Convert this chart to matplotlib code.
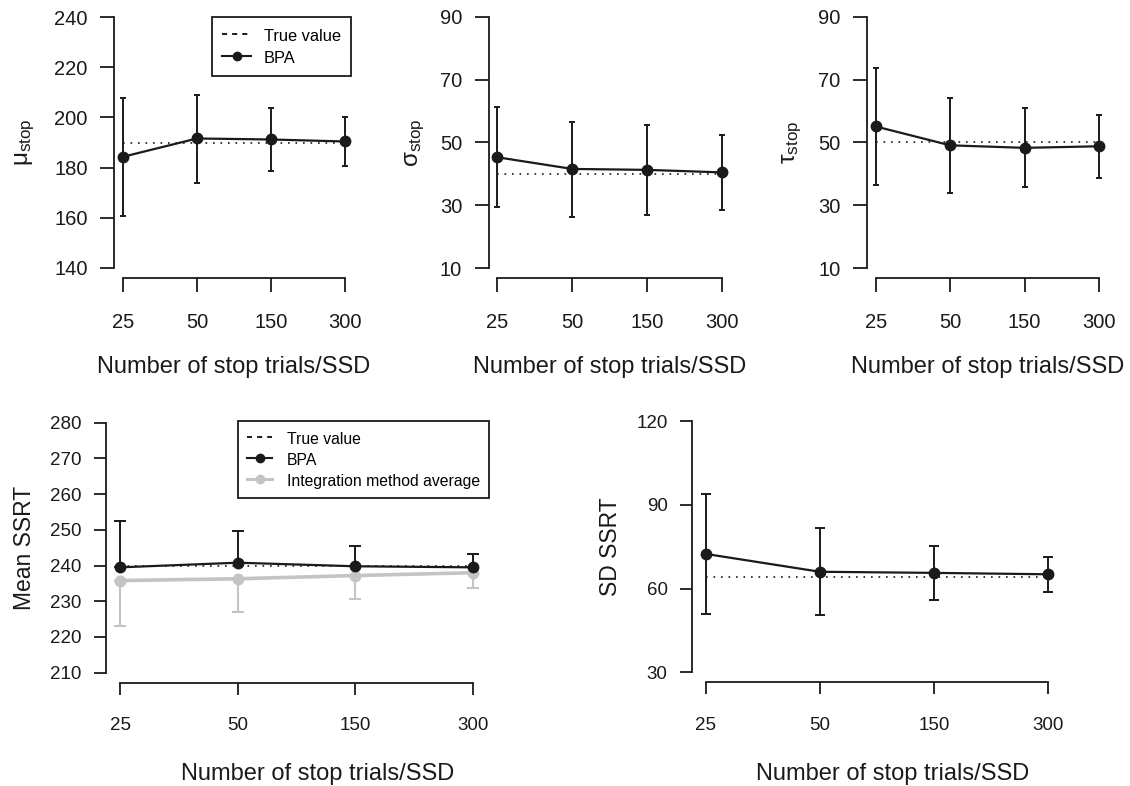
import matplotlib
matplotlib.use("Agg")
import matplotlib.pyplot as plt
from matplotlib.lines import Line2D
import numpy as np

plt.rcParams['font.family'] = 'Liberation Sans'
plt.rcParams['mathtext.fontset'] = 'custom'
plt.rcParams['mathtext.rm'] = 'Liberation Sans'
plt.rcParams['mathtext.it'] = 'Liberation Sans:italic'

INK = '#1a1a1a'
GREY = '#c4c4c4'

# number of stop trials per SSD
n_trials = ['25', '50', '150', '300']

# BPA estimates with 95% intervals
mu_bpa = [184.3, 191.6, 191.2, 190.4]
mu_lo = [160.7, 173.7, 178.6, 180.8]
mu_hi = [207.9, 209.1, 203.8, 200.0]
mu_true = 190

sigma_bpa = [45.3, 41.6, 41.3, 40.5]
sigma_lo = [29.4, 26.4, 27.1, 28.6]
sigma_hi = [61.2, 56.6, 55.5, 52.4]
sigma_true = 40

tau_bpa = [55.1, 49.1, 48.3, 48.8]
tau_lo = [36.6, 34.1, 36.0, 38.7]
tau_hi = [73.6, 64.2, 60.9, 58.9]
tau_true = 50

mean_ssrt_bpa = [239.5, 240.8, 239.8, 239.5]
mean_ssrt_bpa_hi = [252.6, 249.8, 245.5, 243.3]
mean_ssrt_int = [235.8, 236.3, 237.2, 238.0]
mean_ssrt_int_lo = [223.2, 227.0, 230.7, 233.8]
mean_ssrt_true = 240

sd_ssrt_bpa = [72.4, 66.0, 65.6, 65.1]
sd_ssrt_lo = [50.8, 50.5, 56.0, 58.8]
sd_ssrt_hi = [93.9, 81.7, 75.4, 71.4]
sd_ssrt_true = 64

W, H = 1130, 786
fig = plt.figure(figsize=(W / 100, H / 100), dpi=100)
x = np.arange(1, len(n_trials) + 1)


def add_ax(left, top, right, bottom):
    return fig.add_axes([left / W, 1 - bottom / H, (right - left) / W, (bottom - top) / H])


def style(ax, yticks, tick_fs, xpad, ticklen):
    lo, hi = yticks[0], yticks[-1]
    r = hi - lo
    ax.set_ylim(lo - 0.04 * r, hi + 0.04 * r)
    ax.set_xlim(0.88, 4.12)
    ax.set_xticks(x)
    ax.set_xticklabels(n_trials)
    ax.set_yticks(yticks)
    for s in ['top', 'right']:
        ax.spines[s].set_visible(False)
    for s in ['left', 'bottom']:
        ax.spines[s].set_linewidth(1.3)
        ax.spines[s].set_color(INK)
    ax.spines['left'].set_bounds(lo, hi)
    ax.spines['bottom'].set_bounds(1, 4)
    ax.tick_params(direction='out', length=ticklen, width=1.3, color=INK,
                   labelsize=tick_fs, labelcolor=INK)
    ax.tick_params(axis='x', pad=xpad)
    ax.tick_params(axis='y', pad=9)
    ax.patch.set_alpha(0)


def ylab(ax, text, fs, right_px, ax_left, ax_w):
    ax.set_ylabel(text, fontsize=fs, color=INK)
    ax.yaxis.set_label_coords((right_px - ax_left) / ax_w, 0.5)


def xlab(ax, center_px, top_px, ax_left, ax_w, ax_bottom, ax_h):
    ax.set_xlabel('Number of stop trials/SSD', fontsize=17, color=INK)
    ax.xaxis.set_label_coords((center_px - ax_left) / ax_w, (ax_bottom - top_px) / ax_h)


def bpa_panel(ax, est, lo, hi, true, capsize):
    est = np.array(est)
    yerr = [est - np.array(lo), np.array(hi) - est]
    ax.plot([1, 4], [true, true], color=INK, lw=1.2, ls=(0, (1, 3.5)), zorder=2)
    ax.errorbar(x, est, yerr=yerr, fmt='none', ecolor=INK, elinewidth=1.4,
                capsize=capsize, capthick=1.4, zorder=3)
    ax.plot(x, est, color=INK, lw=1.6, marker='o', ms=7.5, zorder=4)


true_handle = Line2D([], [], color=INK, lw=1.4, ls=(0, (2.6, 2.6)))
bpa_handle = Line2D([], [], color=INK, lw=1.5, marker='o', ms=6)
int_handle = Line2D([], [], color=GREY, lw=2.2, marker='o', ms=6)

# top row: mu, sigma, tau
top_boxes = [(114, 7, 354, 278), (488.5, 6.6, 730.6, 278.4), (866.8, 6.6, 1108, 278.4)]
top_data = [
    (mu_bpa, mu_lo, mu_hi, mu_true, [140, 160, 180, 200, 220, 240], r'$\mathrm{\mu}_{\mathrm{stop}}$', 37),
    (sigma_bpa, sigma_lo, sigma_hi, sigma_true, [10, 30, 50, 70, 90], r'$\mathrm{\sigma}_{\mathrm{stop}}$', 427),
    (tau_bpa, tau_lo, tau_hi, tau_true, [10, 30, 50, 70, 90], r'$\mathrm{\tau}_{\mathrm{stop}}$', 804),
]
top_axes = []
for box, (est, lo, hi, true, yt, lab, lab_px) in zip(top_boxes, top_data):
    ax = add_ax(*box)
    bpa_panel(ax, est, lo, hi, true, capsize=2.4)
    style(ax, yt, 14.5, 15, 10)
    w, h = box[2] - box[0], box[3] - box[1]
    ylab(ax, lab, 17.5, lab_px, box[0], w)
    xlab(ax, (box[0] + box[2]) / 2, 356, box[0], w, box[3], h)
    top_axes.append(ax)

leg = top_axes[0].legend([true_handle, bpa_handle], ['True value', 'BPA'],
                         loc='upper left', bbox_to_anchor=((212 - 114) / 240, (278 - 17) / 271),
                         borderaxespad=0, fontsize=11.8, frameon=True, fancybox=False,
                         edgecolor=INK, framealpha=1, numpoints=1, handlelength=1.75,
                         handleheight=1.16, handletextpad=0.8, borderpad=0.62,
                         labelspacing=0.3)
leg.get_frame().set_linewidth(1.3)

# bottom left: mean SSRT
box = (106, 412.7, 487, 682.7)
ax = add_ax(*box)
bpa = np.array(mean_ssrt_bpa)
integ = np.array(mean_ssrt_int)
ax.errorbar(x, integ, yerr=[integ - np.array(mean_ssrt_int_lo), np.zeros(4)], fmt='none',
            ecolor=GREY, elinewidth=1.5, capsize=4, capthick=1.5, zorder=1)
ax.plot(x, integ, color=GREY, lw=2.6, marker='o', ms=7.5, zorder=2)
ax.errorbar(x, bpa, yerr=[np.zeros(4), np.array(mean_ssrt_bpa_hi) - bpa], fmt='none',
            ecolor=INK, elinewidth=1.4, capsize=4, capthick=1.4, zorder=3)
ax.plot(x, bpa, color=INK, lw=1.6, marker='o', ms=7.5, zorder=4)
ax.plot([1, 4], [mean_ssrt_true, mean_ssrt_true], color=INK, lw=1.2,
        ls=(0, (1, 3.5)), zorder=5)
style(ax, [210, 220, 230, 240, 250, 260, 270, 280], 13.5, 16.5, 8.5)
w, h = box[2] - box[0], box[3] - box[1]
ylab(ax, 'Mean SSRT', 16.5, 36, box[0], w)
xlab(ax, 318, 763, box[0], w, box[3], h)
leg = ax.legend([true_handle, bpa_handle, int_handle],
                ['True value', 'BPA', 'Integration method average'],
                loc='upper left', bbox_to_anchor=((237.7 - 106) / w, (682.7 - 420.7) / h),
                borderaxespad=0, fontsize=11.3, frameon=True, fancybox=False,
                edgecolor=INK, framealpha=1, numpoints=1, handlelength=1.6,
                handleheight=1.22, handletextpad=0.92, borderpad=0.6,
                labelspacing=0.3)
leg.get_frame().set_linewidth(1.3)

# bottom right: SD SSRT
box = (692, 411, 1062, 682.3)
ax = add_ax(*box)
bpa_panel(ax, sd_ssrt_bpa, sd_ssrt_lo, sd_ssrt_hi, sd_ssrt_true, capsize=3.8)
style(ax, [30, 60, 90, 120], 13.5, 16.5, 8.5)
w, h = box[2] - box[0], box[3] - box[1]
ylab(ax, 'SD SSRT', 16.5, 622, box[0], w)
xlab(ax, 893, 763, box[0], w, box[3], h)

fig.savefig('out.png', dpi=100)
